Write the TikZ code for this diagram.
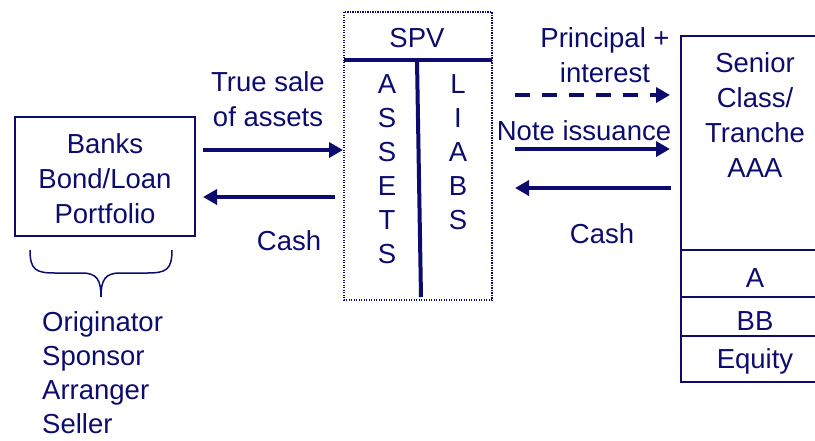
\documentclass[tikz,border=0pt]{standalone}
\usepackage{fontspec}
\setmainfont{Liberation Sans}
\usetikzlibrary{arrows.meta,positioning}

\definecolor{navy}{RGB}{12,12,110}
\tikzset{
  lbl/.style={text=navy,inner sep=0pt,font=\fontsize{27.5}{35}\selectfont,align=center},
  box/.style={draw=navy,line width=1.8pt},
  flow/.style={draw=navy,line width=3.5pt,-{Triangle[length=14pt,width=15pt]}},
  spvline/.style={draw=navy,line width=4pt},
}

\begin{document}
\begin{tikzpicture}[x=1pt,y=-1pt]
    \useasboundingbox (0,0) rectangle (815,440);

    % Originating bank and its roles (multi-line texts sit on their last baseline)
    \node[box,minimum width=180pt,minimum height=119pt] (banks) at (105,176.5) {};
    \node[lbl,anchor=base] (bankstxt) at (105,223) {Banks\\Bond/Loan\\Portfolio};
    \draw[navy,line width=1.5pt] (30,250) .. controls (30,270) and (36,273) .. (55,273)
        -- (82,273) .. controls (97,273) and (101,280) .. (101,297)
        .. controls (101,280) and (105,273) .. (120,273)
        -- (147,273) .. controls (166,273) and (172,270) .. (172,250);
    \node[lbl,anchor=base west,align=left,font=\fontsize{27.5}{34}\selectfont] (roles) at (42,433)
        {Originator\\Sponsor\\Arranger\\Seller};

    % SPV balance sheet
    \draw[navy,line width=1.5pt,dash pattern=on 1.2pt off 1.3pt] (344,12) rectangle (492,300);
    \node[lbl,anchor=base] (spv) at (417,47) {SPV};
    \draw[spvline] (344,60) -- (492,60);
    \draw[spvline] (417,60) -- (421,297);
    \foreach \c [count=\i from 0] in {A,S,S,E,T,S}
        \node[lbl,anchor=base] (as\i) at (387,93+34*\i) {\c};
    \foreach \c [count=\i from 0] in {L,I,A,B,S}
        \node[lbl,anchor=base] (li\i) at (458,93+34*\i) {\c};

    % Tranches
    \draw[box] (681,36) rectangle (830,382);
    \draw[box] (681,250) -- (830,250);
    \draw[box] (681,297) -- (830,297);
    \draw[box] (681,336) -- (830,336);
    \node[lbl,anchor=base] (senior) at (755,177) {Senior\\Class/\\Tranche\\AAA};
    \node[lbl,anchor=base] (trA) at (755,287) {A};
    \node[lbl,anchor=base] (trBB) at (755,330) {BB};
    \node[lbl,anchor=base] (trEq) at (755,368) {Equity};

    % Flows between bank and SPV
    \coordinate (sale0) at (203,150);
    \coordinate (sale1) at (343,150);
    \coordinate (cashL0) at (335,197);
    \coordinate (cashL1) at (203,197);
    \draw[flow] (sale0) -- (sale1);
    \draw[flow] (cashL0) -- (cashL1);
    \node[lbl,anchor=base] (saletxt) at (268,126) {True sale\\of assets};
    \node[lbl,anchor=base] (cashLtxt) at (289,250) {Cash};

    % Flows between SPV and investors
    \coordinate (pi0) at (515,95);
    \coordinate (pi1) at (670,95);
    \coordinate (note0) at (515,149);
    \coordinate (note1) at (670,149);
    \coordinate (cashR0) at (671,188);
    \coordinate (cashR1) at (515,188);
    \draw[flow,dash pattern=on 15pt off 12pt] (pi0) -- (pi1);
    \draw[flow] (note0) -- (note1);
    \draw[flow] (cashR0) -- (cashR1);
    \node[lbl,anchor=base] (pitxt) at (605,82) {Principal +\\interest};
    \node[lbl,anchor=base] (notetxt) at (584,140) {Note issuance};
    \node[lbl,anchor=base] (cashRtxt) at (602,243) {Cash};
\end{tikzpicture}
\end{document}
